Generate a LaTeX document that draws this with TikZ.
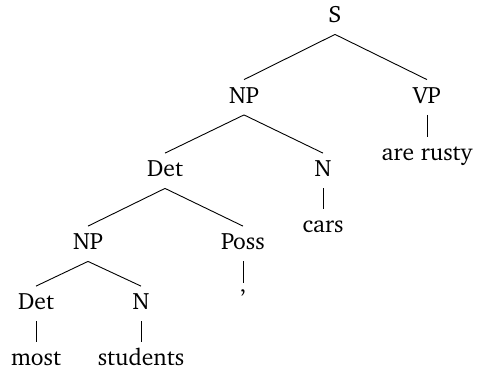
\documentclass[tikz,border=0pt]{standalone}
\usepackage[T1]{fontenc}
\usepackage{charter}
\usepackage{tikz}
\usetikzlibrary{positioning}

\begin{document}
\begin{tikzpicture}[
        x=0.5pt, y=-0.5pt,
        cat/.style={anchor=base, inner xsep=2pt, inner ysep=3.5pt, text height=8pt, text depth=2.25pt, font=\fontsize{11.8}{14}\selectfont},
        branch/.style={line width=0.45pt, black}
    ]
        \useasboundingbox (0,0) rectangle (477,372);

        % Nodes
        \node[cat] (s) at (335,22.5) {S};
        \node[cat] (np) at (244,103) {NP};
        \node[cat] (vp) at (427,103) {VP};
        \node[cat] (rusty) at (427,160) {are rusty};
        \node[cat] (det) at (165,176.5) {Det};
        \node[cat] (n) at (323,176.5) {N};
        \node[cat] (cars) at (323,232.5) {cars};
        \node[cat] (npposs) at (88,249.5) {NP};
        \node[cat] (poss) at (243,249.5) {Poss};
        \node[cat] (apos) at (243,306) {'};
        \node[cat] (detmost) at (36,309.5) {Det};
        \node[cat] (nstud) at (141,309.5) {N};
        \node[cat] (most) at (36,365) {most};
        \node[cat] (students) at (141,365) {students};

        % Branches
        \draw[branch] (s.south) -- (np.north);
        \draw[branch] (s.south) -- (vp.north);
        \draw[branch] (vp.south) -- (rusty.north);
        \draw[branch] (np.south) -- (det.north);
        \draw[branch] (np.south) -- (n.north);
        \draw[branch] (n.south) -- (cars.north);
        \draw[branch] (det.south) -- (npposs.north);
        \draw[branch] (det.south) -- (poss.north);
        \draw[branch] (poss.south) -- (apos.north);
        \draw[branch] (npposs.south) -- (detmost.north);
        \draw[branch] (npposs.south) -- (nstud.north);
        \draw[branch] (detmost.south) -- (most.north);
        \draw[branch] (nstud.south) -- (students.north);
    \end{tikzpicture}
\end{document}
